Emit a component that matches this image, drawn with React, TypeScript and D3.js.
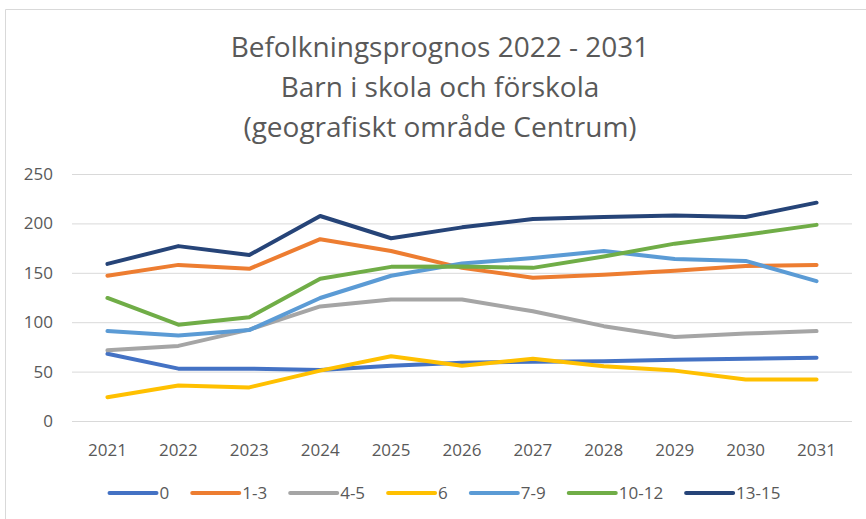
import * as d3 from 'd3';
import React, { useEffect, useRef } from 'react';

const years = ['2021', '2022', '2023', '2024', '2025', '2026', '2027', '2028', '2029', '2030', '2031'];
const seriesNames = ['0', '1-3', '4-5', '6', '7-9', '10-12', '13-15'];
const seriesColors = ['#4472C4', '#ED7D31', '#A5A5A5', '#FFC000', '#5B9BD5', '#70AD47', '#264478'];

const age0 = [68, 53, 53, 51.5, 56, 59, 60, 60.5, 62, 63, 64];
const age1to3 = [147, 158, 154, 184, 172, 155, 145, 148, 152, 157, 158];
const age4to5 = [71.5, 76, 92.5, 116, 123, 123, 111, 96, 85, 88.5, 91];
const age6 = [24, 36, 34, 51, 65.5, 56, 63, 55.5, 51, 42, 42];
const age7to9 = [91, 86.5, 92, 124.5, 147, 159.5, 165, 172, 164, 162, 141.5];
const age10to12 = [124.5, 97.5, 105, 144, 156, 156.5, 155, 166.5, 179.5, 188.5, 198.5];
const age13to15 = [159, 177, 168, 207.5, 185, 196, 204.5, 206.5, 208, 206.5, 221];

const allSeries = [age0, age1to3, age4to5, age6, age7to9, age10to12, age13to15];
const yTicks = [0, 50, 100, 150, 200, 250];
const titleLines = ['Befolkningsprognos 2022 - 2031', 'Barn i skola och förskola', '(geografiskt område Centrum)'];

const W = 866;
const H = 519;
const FONT = "'Liberation Sans Narrow', 'Open Sans', sans-serif";

const App = () => {
    const ref = useRef<SVGSVGElement | null>(null);

    useEffect(() => {
        const svg = d3.select(ref.current);
        svg.selectAll('*').remove();

        const margin = { top: 174, right: 14, bottom: 98, left: 72 };
        const width = W - margin.left - margin.right;
        const height = H - margin.top - margin.bottom;

        // chart area border
        svg.append('path')
            .attr('d', `M5.5,${H} V9.5 H${W}`)
            .attr('fill', 'none')
            .attr('stroke', '#d9d9d9')
            .attr('stroke-width', 1);

        svg.selectAll('.title')
            .data(titleLines)
            .enter().append('text')
            .attr('class', 'title')
            .attr('x', 440)
            .attr('y', (d, i) => 57 + i * 40)
            .attr('text-anchor', 'middle')
            .style('font-family', FONT)
            .style('font-size', '28px')
            .style('fill', '#595959')
            .text(d => d);

        const g = svg.append('g').attr('transform', `translate(${margin.left},${margin.top})`);

        const x = d3.scalePoint().domain(years).range([0, width]).padding(0.5);
        const y = d3.scaleLinear().domain([0, 250]).range([height, 0]);

        g.selectAll('.grid')
            .data(yTicks)
            .enter().append('line')
            .attr('x1', 0)
            .attr('x2', width)
            .attr('y1', d => y(d) + 0.5)
            .attr('y2', d => y(d) + 0.5)
            .attr('stroke', '#d9d9d9')
            .attr('stroke-width', 1);

        g.selectAll('.ylab')
            .data(yTicks)
            .enter().append('text')
            .attr('x', -19)
            .attr('y', d => y(d))
            .attr('dy', '0.35em')
            .attr('text-anchor', 'end')
            .style('font-family', FONT)
            .style('font-size', '17px')
            .style('fill', '#595959')
            .text(d => d);

        g.selectAll('.xlab')
            .data(years)
            .enter().append('text')
            .attr('x', d => x(d) as number)
            .attr('y', height + 29)
            .attr('dy', '0.35em')
            .attr('text-anchor', 'middle')
            .style('font-family', FONT)
            .style('font-size', '17px')
            .style('fill', '#595959')
            .text(d => d);

        const line = d3.line<number>()
            .x((d, i) => x(years[i]) as number)
            .y(d => y(d));

        allSeries.forEach((vals, i) => {
            g.append('path')
                .datum(vals)
                .attr('fill', 'none')
                .attr('stroke', seriesColors[i])
                .attr('stroke-width', 4)
                .attr('stroke-linecap', 'round')
                .attr('stroke-linejoin', 'round')
                .attr('d', line);
        });

        // legend, laid out after measuring labels
        const legend = svg.append('g').attr('transform', `translate(0,${H - 26})`);
        const items = legend.selectAll('.legend')
            .data(seriesNames)
            .enter().append('g');
        items.append('line')
            .attr('x1', 0)
            .attr('x2', 47)
            .attr('stroke', (d, i) => seriesColors[i])
            .attr('stroke-width', 4)
            .attr('stroke-linecap', 'round');
        items.append('text')
            .attr('x', 50)
            .attr('dy', '0.35em')
            .style('font-family', FONT)
            .style('font-size', '17px')
            .style('fill', '#595959')
            .text(d => d);

        const widths: number[] = [];
        items.selectAll('text').each(function () {
            widths.push(50 + (this as SVGTextElement).getComputedTextLength());
        });
        const gap = 23;
        const total = d3.sum(widths) + gap * (widths.length - 1);
        let cx = 445 - total / 2;
        items.attr('transform', (d, i) => {
            const t = `translate(${cx},0)`;
            cx += widths[i] + gap;
            return t;
        });
    }, []);

    return (
        <svg ref={ref} width={W} height={H}
            style={{ position: 'absolute', left: 0, top: 0, background: '#fff' }} />
    );
};

export default App;
